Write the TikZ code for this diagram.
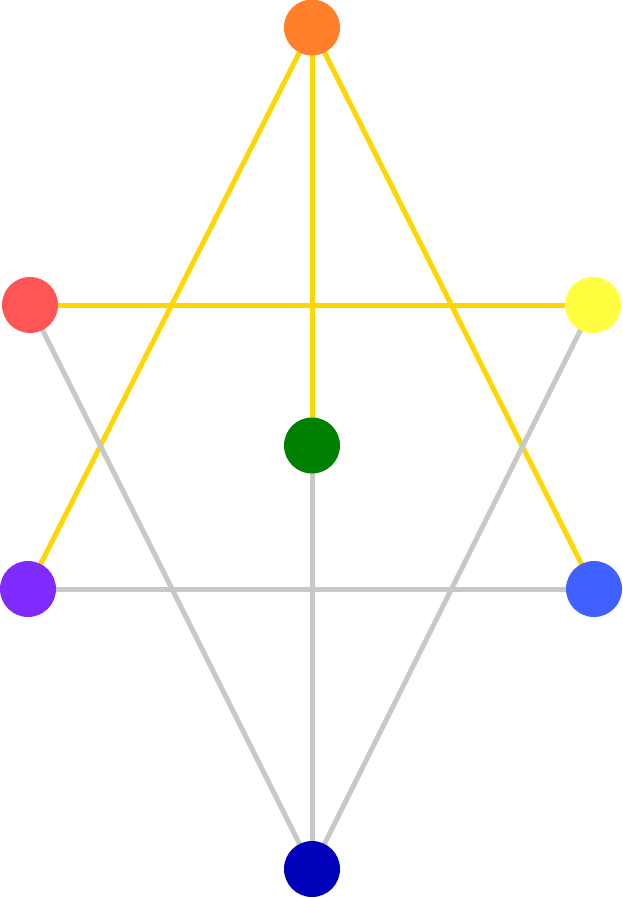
\documentclass[tikz,border=0pt]{standalone}
\usetikzlibrary{backgrounds}
\definecolor{cOrange}{HTML}{FF7F2A}
\definecolor{cRed}{HTML}{FF5555}
\definecolor{cYellow}{HTML}{FFFF40}
\definecolor{cGreen}{HTML}{008000}
\definecolor{cPurple}{HTML}{7F2AFF}
\definecolor{cBlue}{HTML}{4060FF}
\definecolor{cDark}{HTML}{0000BB}
\definecolor{cGold}{HTML}{FFD700}
\definecolor{cGray}{HTML}{C8C8C8}
\begin{document}
\begin{tikzpicture}[x=1pt,y=-1pt,
  dot/.style={circle,minimum size=56pt,inner sep=0pt,draw=none},
  goldline/.style={draw=cGold,line width=5pt},
  grayline/.style={draw=cGray,line width=5pt}]
\useasboundingbox (0,0) rectangle (623,898);
\node[dot,fill=cOrange] (o) at (312,27.5) {};
\node[dot,fill=cRed] (r) at (30,305) {};
\node[dot,fill=cYellow] (y) at (593,305) {};
\node[dot,fill=cGreen] (g) at (312,445.5) {};
\node[dot,fill=cPurple] (p) at (28,589) {};
\node[dot,fill=cBlue] (b) at (594,589) {};
\node[dot,fill=cDark] (d) at (312,869) {};
\begin{scope}[on background layer]
\path[goldline] (o.center) -- (p.center);
\path[goldline] (o.center) -- (b.center);
\path[goldline] (o.center) -- (g.center);
\path[goldline] (r.center) -- (y.center);
\path[grayline] (r.center) -- (d.center);
\path[grayline] (y.center) -- (d.center);
\path[grayline] (p.center) -- (b.center);
\path[grayline] (g.center) -- (d.center);
\end{scope}
\end{tikzpicture}
\end{document}
